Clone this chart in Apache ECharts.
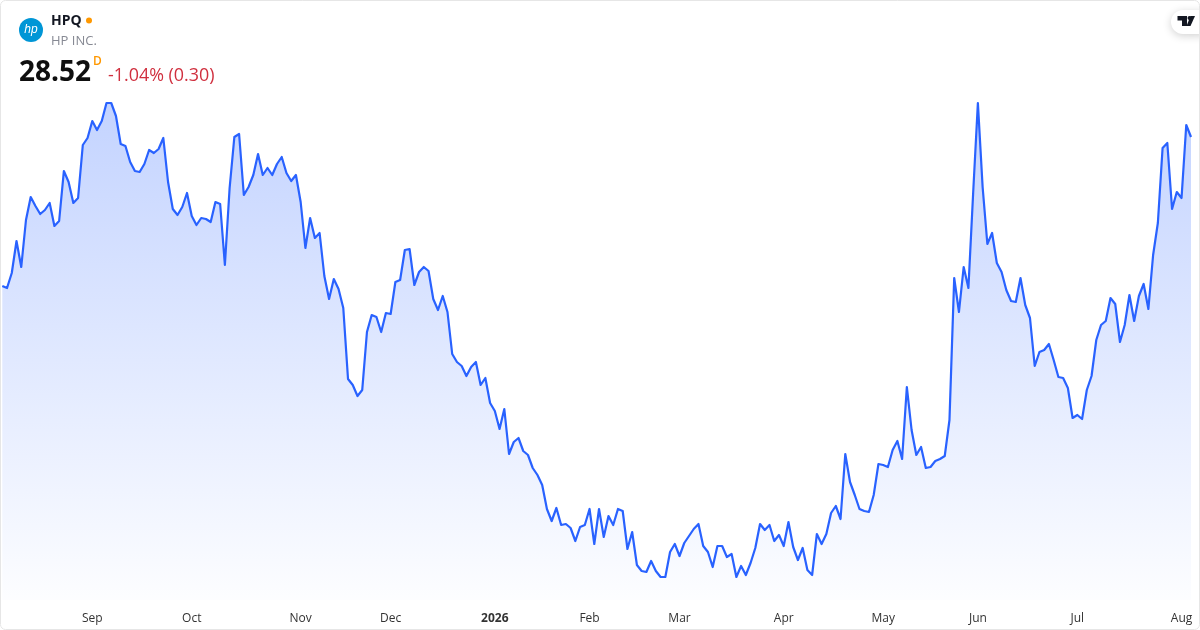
<!DOCTYPE html>
<html><head><meta charset="utf-8">
<style>html,body{margin:0;padding:0;background:#fff}#c{width:1200px;height:630px}</style>
<script src="https://cdn.jsdelivr.net/npm/echarts@6/dist/echarts.min.js"></script>
</head><body><div id="c"></div>
<script>
const prices = [
25.54,25.50,25.80,26.44,25.92,26.86,27.32,27.14,26.98,27.06,27.20,26.74,26.84,27.84,27.62,27.20,27.30,28.36,28.50,28.84,
28.66,28.84,29.20,29.20,28.94,28.38,28.34,28.02,27.84,27.82,27.98,28.26,28.20,28.28,28.50,27.62,27.08,26.96,27.12,27.40,
26.94,26.76,26.90,26.88,26.82,27.22,27.18,25.96,27.50,28.52,28.58,27.36,27.52,27.76,28.18,27.76,27.90,27.76,27.98,28.12,
27.80,27.64,27.76,27.22,26.30,26.90,26.50,26.60,25.74,25.28,25.68,25.48,25.10,23.68,23.56,23.34,23.46,24.62,24.96,24.92,
24.62,25.00,24.98,25.62,25.66,26.26,26.28,25.56,25.82,25.92,25.84,25.28,25.06,25.34,25.02,24.18,24.02,23.94,23.74,23.92,
24.02,23.56,23.70,23.20,23.04,22.68,23.08,22.18,22.42,22.50,22.24,22.16,21.90,21.76,21.56,21.08,20.84,21.10,20.76,20.78,
20.70,20.44,20.72,20.76,21.08,20.38,21.08,20.52,20.94,20.76,21.08,21.04,20.28,20.62,19.96,19.84,19.82,20.04,19.84,19.72,
19.72,20.22,20.38,20.14,20.40,20.54,20.68,20.78,20.34,20.22,19.92,20.34,20.34,20.12,20.18,19.72,19.94,19.76,20.00,20.30,
20.78,20.66,20.76,20.44,20.56,20.34,20.82,20.32,20.06,20.30,19.86,19.76,20.58,20.38,20.58,21.00,21.14,20.88,22.18,21.62,
21.36,21.08,21.04,21.02,21.36,21.98,21.96,21.92,22.26,22.44,22.08,23.52,22.66,22.16,22.32,21.90,21.92,22.04,22.08,22.14,
22.86,25.70,25.02,25.92,25.50,27.40,29.20,27.52,26.38,26.60,26.00,25.82,25.46,25.24,25.22,25.70,25.16,24.90,23.94,24.22,
24.26,24.38,24.06,23.72,23.70,23.50,22.90,22.96,22.88,23.46,23.74,24.46,24.76,24.84,25.30,25.18,24.42,24.76,25.36,24.84,
25.34,25.58,25.08,26.16,26.80,28.30,28.40,27.08,27.42,27.30,28.76,28.52
];
const tickLabels = ['Sep','Oct','Nov','Dec','2026','Feb','Mar','Apr','May','Jun','Jul','Aug'];
const tickIndexes = [19,40,63,82,104,124,143,165,186,206,227,249];

const FONT = '"Open Sans","Noto Sans",sans-serif';
const categories = prices.map((_, i) => {
  const k = tickIndexes.indexOf(i);
  return k >= 0 ? tickLabels[k] : String(i);
});
const chart = echarts.init(document.getElementById('c'), null, {renderer:'canvas'});
function txt(x,y,text,size,weight,fill,align){
  return {type:'text',x:x,y:y,silent:true,z:20,style:{text:text,fontFamily:FONT,fontSize:size,fontWeight:weight,fill:fill,align:align||'left',verticalAlign:'middle'}};
}
chart.setOption({
  animation:false,
  backgroundColor:'#fff',
  grid:{left:2.3,width:1188.7,top:60,height:540,containLabel:false},
  xAxis:{type:'category',boundaryGap:false,data:categories,
    axisLine:{show:false},axisTick:{show:false},splitLine:{show:false},
    axisLabel:{
      margin:12.5,fontFamily:FONT,fontSize:12,color:'#333',hideOverlap:false,showMinLabel:true,showMaxLabel:true,
      interval:(i)=>tickIndexes.includes(i),
      formatter:(v)=> v==='2026' ? '{b|2026}' : (tickLabels.includes(v) ? v : ''),
      rich:{b:{fontWeight:700,fontFamily:FONT,fontSize:12,color:'#333'}}
    }},
  yAxis:{type:'value',min:19.26,max:30.06,show:false},
  series:[{type:'line',data:prices,showSymbol:false,symbol:'none',smooth:false,
    lineStyle:{color:'#2962ff',width:2.2,join:'round'},
    areaStyle:{opacity:1,color:new echarts.graphic.LinearGradient(0,0,0,1,[
      {offset:0,color:'rgba(41,98,255,0.28)'},{offset:1,color:'rgba(41,98,255,0.01)'}])}
  }],
  graphic:[
    {type:'rect',silent:true,z:30,shape:{x:0.5,y:0.5,width:1199,height:629,r:5},style:{fill:'none',stroke:'#e6e6e6',lineWidth:1}},
    {type:'circle',silent:true,z:20,shape:{cx:31,cy:30,r:12},style:{fill:'#0096d6'}},
    {type:'text',x:31,y:30,silent:true,z:21,style:{text:'hp',fontFamily:'"Liberation Sans",sans-serif',fontStyle:'italic',fontWeight:400,fontSize:12,fill:'#fff',align:'center',verticalAlign:'middle'}},
    txt(51,21,'HPQ',14,700,'#131722'),
    {type:'circle',silent:true,z:20,shape:{cx:89,cy:20.5,r:3},style:{fill:'#ff9800'}},
    txt(51,41,'HP INC.',13,400,'#868993'),
    txt(19,73,'28.52',28,700,'#0f0f0f'),
    txt(93,62,'D',12,600,'#ff9800'),
    txt(108,75.5,'-1.04% (0.30)',17.9,400,'#d0303f'),
    {type:'rect',silent:true,z:20,shape:{x:1171,y:10,width:40,height:24,r:12},
      style:{fill:'#fff',shadowColor:'rgba(0,0,0,0.18)',shadowBlur:8,shadowOffsetY:2}},
    {type:'polygon',silent:true,z:21,shape:{points:[[1177.5,16],[1187,16],[1187,26],[1182,26],[1182,20.5],[1177.5,20.5]]},style:{fill:'#131722'}},
    {type:'polygon',silent:true,z:21,shape:{points:[[1190.5,16],[1195,16],[1190.5,26],[1186.5,26]]},style:{fill:'#131722'}},
    {type:'circle',silent:true,z:21,shape:{cx:1189.5,cy:18,r:2},style:{fill:'#131722'}}
  ]
});
</script></body></html>
